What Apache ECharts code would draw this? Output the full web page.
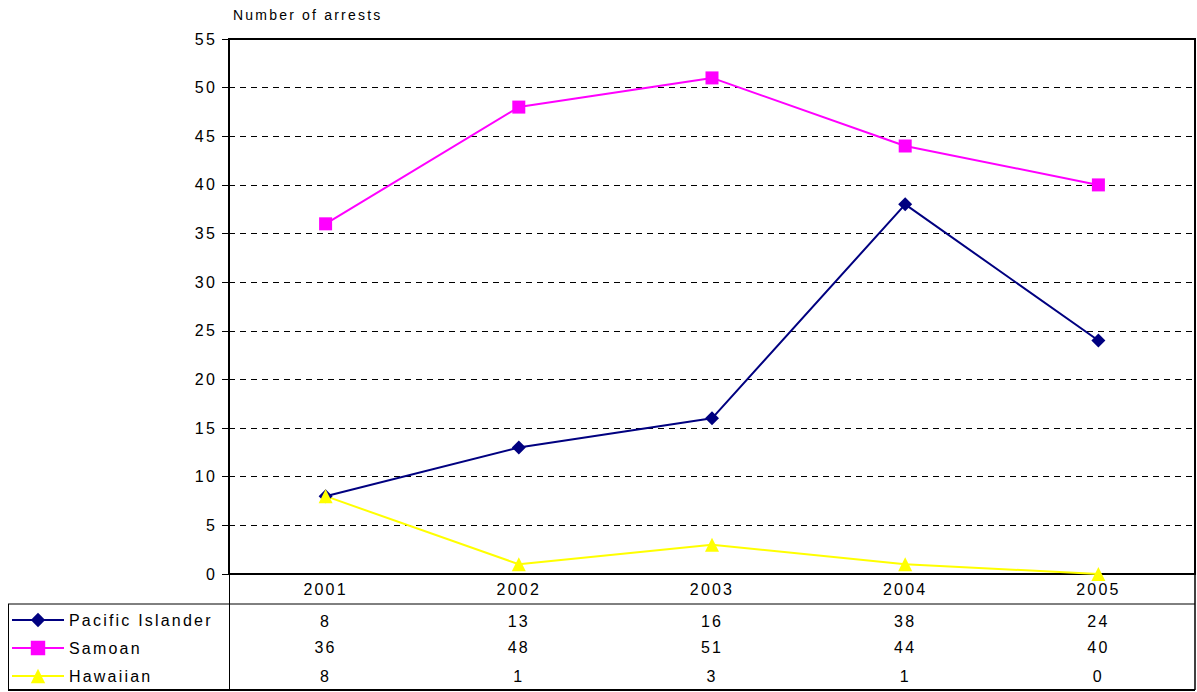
<!DOCTYPE html>
<html>
<head>
<meta charset="utf-8">
<script src="https://cdn.jsdelivr.net/npm/echarts@6/dist/echarts.min.js"></script>
<style>
    html, body { margin: 0; padding: 0; background: #fff; }
    #main { width: 1197px; height: 692px; }
    #main text { letter-spacing: 2.2px; }
</style>
</head>
<body>
<div id="main"></div>
<script>
var years = ["2001", "2002", "2003", "2004", "2005"];
var pacificIslander = [8, 13, 16, 38, 24];
var samoan = [36, 48, 51, 44, 40];
var hawaiian = [8, 1, 3, 1, 0];
var seriesNames = ["Pacific Islander", "Samoan", "Hawaiian"];

var font = "Arial, 'Liberation Sans', sans-serif";

// 表格里的数值行，用额外的x轴画出来
function rowAxis(values, offset) {
    return {
        type: 'category',
        gridIndex: 0,
        position: 'bottom',
        offset: offset,
        data: years,
        axisLine: {show: false},
        axisTick: {show: false},
        axisLabel: {
            margin: 0,
            fontSize: 16,
            fontFamily: font,
            color: '#000',
            formatter: function(v, i) { return String(values[i]); }
        }
    };
}

var myChart = echarts.init(document.getElementById('main'), null, {renderer: 'svg'});
myChart.setOption({
    animation: false,
    backgroundColor: '#fff',
    grid: {
        left: 229, right: 2, top: 39, bottom: 118,
        show: true, borderColor: '#000', borderWidth: 2
    },
    legend: {
        orient: 'vertical',
        left: 11,
        top: 612,
        padding: 0,
        itemWidth: 52,
        itemHeight: 18,
        itemGap: 12,
        data: seriesNames,
        textStyle: {fontSize: 16, fontFamily: font, color: '#000'}
    },
    xAxis: [
        {
            type: 'category',
            data: years,
            boundaryGap: true,
            axisLine: {lineStyle: {color: '#000', width: 2}},
            axisTick: {show: false},
            axisLabel: {margin: 7, fontSize: 16, fontFamily: font, color: '#000'}
        },
        rowAxis(pacificIslander, 39),
        rowAxis(samoan, 65),
        rowAxis(hawaiian, 94)
    ],
    yAxis: {
        type: 'value',
        min: 0, max: 55, interval: 5,
        name: 'Number of arrests',
        nameLocation: 'end',
        nameGap: 17,
        nameTextStyle: {align: 'left', fontSize: 14, fontFamily: font, color: '#000', padding: [0, 0, 0, 4]},
        axisLine: {show: true, lineStyle: {color: '#000', width: 2}},
        axisTick: {show: true, length: 7, lineStyle: {color: '#000'}},
        axisLabel: {margin: 12, fontSize: 16, fontFamily: font, color: '#000'},
        splitLine: {show: true, lineStyle: {color: '#000', type: [6, 5], width: 1}}
    },
    graphic: [
        // 数据表格的边框
        {type: 'line', shape: {x1: 8, y1: 604, x2: 1195, y2: 604}, style: {stroke: '#000', lineWidth: 1}},
        {type: 'line', shape: {x1: 8, y1: 690, x2: 1195, y2: 690}, style: {stroke: '#000', lineWidth: 2}},
        {type: 'line', shape: {x1: 8.5, y1: 604, x2: 8.5, y2: 690}, style: {stroke: '#000', lineWidth: 1}},
        {type: 'line', shape: {x1: 229.5, y1: 574, x2: 229.5, y2: 690}, style: {stroke: '#000', lineWidth: 1}},
        {type: 'line', shape: {x1: 1195, y1: 574, x2: 1195, y2: 690}, style: {stroke: '#000', lineWidth: 1.5}}
    ],
    series: [
        {
            name: seriesNames[0], type: 'line', data: pacificIslander,
            symbol: 'diamond', symbolSize: 14,
            lineStyle: {color: '#000080', width: 2},
            itemStyle: {color: '#000080'}
        },
        {
            name: seriesNames[1], type: 'line', data: samoan,
            symbol: 'rect', symbolSize: 13,
            lineStyle: {color: '#FF00FF', width: 2},
            itemStyle: {color: '#FF00FF'}
        },
        {
            name: seriesNames[2], type: 'line', data: hawaiian,
            symbol: 'triangle', symbolSize: 14,
            lineStyle: {color: '#FFFF00', width: 2},
            itemStyle: {color: '#FFFF00'}
        }
    ]
});
</script>
</body>
</html>
